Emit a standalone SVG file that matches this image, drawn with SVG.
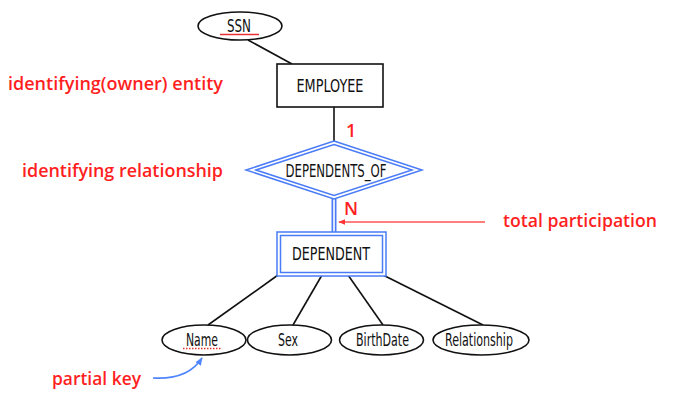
<svg xmlns="http://www.w3.org/2000/svg" width="677" height="400" viewBox="0 0 677 400">
<style>
.ent{fill:#fff;stroke:#111;stroke-width:1.6}
.att{fill:#fff;stroke:#111;stroke-width:1.6}
.wk{fill:#fff;stroke:#4a7cf7;stroke-width:1.5}
.lbl{font-family:"DejaVu Sans Condensed","DejaVu Sans",sans-serif;font-size:18px;fill:#111;text-anchor:middle}
.red{font-family:"Open Sans","Noto Sans",sans-serif;font-weight:600;font-size:18px;fill:#ff1f1f}
.ln{stroke:#111;stroke-width:1.6;fill:none}
</style>
<defs>
<marker id="ar" viewBox="0 0 10 10" refX="9" refY="5" markerWidth="7" markerHeight="7" orient="auto-start-reverse" markerUnits="userSpaceOnUse">
<path d="M0,1 L10,5 L0,9 z" fill="#ff3333"/>
</marker>
<marker id="ab" viewBox="0 0 10 10" refX="9" refY="5" markerWidth="8" markerHeight="8" orient="auto" markerUnits="userSpaceOnUse">
<path d="M0,1 L10,5 L0,9 z" fill="#4f86ff"/>
</marker>
</defs>
<g id="connectors">
<line class="ln" x1="248" y1="40" x2="292" y2="64"/>
<line class="ln" x1="334" y1="107" x2="334" y2="142"/>
<line x1="334" y1="197" x2="334" y2="233" stroke="#4a7cf7" stroke-width="5"/>
<line x1="334" y1="197" x2="334" y2="233" stroke="#fff" stroke-width="1.6"/>
<line class="ln" x1="278" y1="275" x2="208" y2="325"/>
<line class="ln" x1="322" y1="275" x2="293" y2="325"/>
<line class="ln" x1="348" y1="275" x2="383" y2="325"/>
<line class="ln" x1="383" y1="275" x2="483" y2="325"/>
<line x1="485" y1="222" x2="339" y2="222" stroke="#ff5555" stroke-width="1.6" marker-end="url(#ar)"/>
<path d="M153,378 Q188,380 202,358" fill="none" stroke="#4f86ff" stroke-width="1.6" marker-end="url(#ab)"/>
</g>
<g id="SSN">
<ellipse class="att" cx="240" cy="26" rx="42" ry="14"/>
<text class="lbl" x="239" y="32" textLength="24" lengthAdjust="spacingAndGlyphs">SSN</text>
<line x1="220" y1="34.5" x2="259" y2="34.5" stroke="#e83030" stroke-width="1.5"/>
</g>
<g id="EMPLOYEE">
<rect class="ent" x="277" y="64" width="106" height="43"/>
<text class="lbl" x="330" y="92" textLength="67" lengthAdjust="spacingAndGlyphs">EMPLOYEE</text>
</g>
<g id="DEPENDENTS_OF">
<polygon class="wk" points="334,141 422,170 334,199 246,170"/>
<polygon class="wk" points="334,144.5 412,170 334,195.5 256,170"/>
<text class="lbl" x="336" y="177" textLength="101" lengthAdjust="spacingAndGlyphs">DEPENDENTS_OF</text>
</g>
<g id="DEPENDENT">
<rect class="wk" x="277" y="232" width="109" height="44"/>
<rect class="wk" x="280.5" y="235.5" width="102" height="37"/>
<text class="lbl" x="331" y="260" textLength="78" lengthAdjust="spacingAndGlyphs">DEPENDENT</text>
</g>
<g id="Name">
<ellipse class="att" cx="204" cy="340" rx="42" ry="15"/>
<text class="lbl" x="202" y="346" textLength="32" lengthAdjust="spacingAndGlyphs">Name</text>
<line x1="183" y1="348.5" x2="222" y2="348.5" stroke="#e83030" stroke-width="1.5" stroke-dasharray="1.5,1.5"/>
</g>
<g id="Sex">
<ellipse class="att" cx="289.5" cy="340" rx="42" ry="15"/>
<text class="lbl" x="288" y="346" textLength="20" lengthAdjust="spacingAndGlyphs">Sex</text>
</g>
<g id="BirthDate">
<ellipse class="att" cx="381.5" cy="340" rx="42" ry="15"/>
<text class="lbl" x="382.5" y="346" textLength="53" lengthAdjust="spacingAndGlyphs">BirthDate</text>
</g>
<g id="Relationship">
<ellipse class="att" cx="481" cy="340" rx="48" ry="15"/>
<text class="lbl" x="479" y="346" textLength="68" lengthAdjust="spacingAndGlyphs">Relationship</text>
</g>
<g id="annotations">
<text class="red" x="8" y="90" textLength="215" lengthAdjust="spacingAndGlyphs">identifying(owner) entity</text>
<text class="red" x="22" y="177" textLength="201" lengthAdjust="spacingAndGlyphs">identifying relationship</text>
<text class="red" x="503" y="227" textLength="154" lengthAdjust="spacingAndGlyphs">total participation</text>
<text class="red" x="52" y="385" textLength="89" lengthAdjust="spacingAndGlyphs">partial key</text>
<text class="red" x="346" y="137" font-size="16">1</text>
<text class="red" x="344" y="215" font-size="16">N</text>
</g>
</svg>
